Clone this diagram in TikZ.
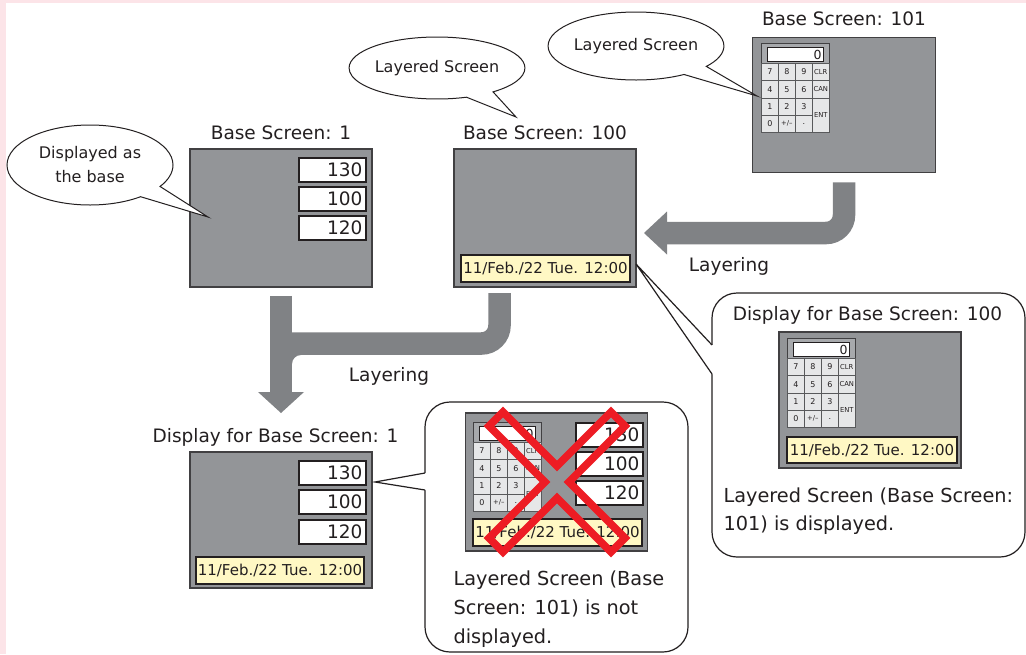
\documentclass[tikz,border=0pt]{standalone}
\usepackage{fontspec}
\setmainfont{DejaVu Sans}
\usetikzlibrary{shapes.callouts}
\definecolor{pinkbg}{HTML}{FCE4E8}
\definecolor{scrgray}{HTML}{939598}
\definecolor{scrline}{HTML}{414042}
\definecolor{arrowgray}{HTML}{808285}
\definecolor{dateyel}{HTML}{FFF8C4}
\definecolor{kpgray}{HTML}{A7A9AC}
\definecolor{kpkeyc}{HTML}{E6E7E8}
\definecolor{kpline}{HTML}{58595B}
\definecolor{txt}{HTML}{231F20}
\definecolor{xred}{HTML}{ED1C24}
\newcommand\fslbl{\fontsize{18.5}{22}\selectfont}
\newcommand\fscall{\fontsize{16}{24}\selectfont}
\newcommand\fsbody{\fontsize{19.3}{28}\selectfont}
\newcommand\fsval{\fontsize{18.5}{22}\selectfont}
\newcommand\fsdate{\fontsize{15}{18}\selectfont}
\newcommand\fskey{\fontsize{8}{9}\selectfont}
\newcommand\fskeysm{\fontsize{6.8}{8}\selectfont}
\newcommand\fskpd{\fontsize{12.5}{13}\selectfont}
\tikzset{
 every node/.append style={text=txt},
 scr/.style={draw=scrline, fill=scrgray, line width=1.5pt, minimum width=182pt, minimum height=138pt, inner sep=0pt},
 valbox/.style={draw=txt, fill=white, line width=1.8pt, minimum height=24pt, text width=60pt, inner xsep=3.5pt, inner ysep=0pt, align=right, font=\fsval, anchor=north west},
 datebox/.style={draw=txt, fill=dateyel, line width=1.8pt, minimum width=169pt, minimum height=27pt, inner sep=0pt, font=\fsdate},
 lbl/.style={anchor=base, font=\fslbl},
 bodytxt/.style={anchor=base west, font=\fsbody},
 band/.style={draw=arrowgray, line width=22.5pt},
 headfill/.style={fill=arrowgray},
 ecall/.style={ellipse callout, draw=txt, fill=white, line width=1pt, inner sep=0pt, callout pointer arc=20, font=\fscall, align=center},
 bubrect/.style={draw=txt, fill=white, line width=1.2pt, rounded corners=25pt, inner sep=0pt},
 bubline/.style={draw=txt, line width=1.2pt},
 kpframe/.style={draw=scrline, fill=kpgray, line width=1pt, minimum width=68pt, minimum height=89pt, inner sep=0pt},
 kpdisp/.style={draw=txt, fill=white, line width=1pt, minimum width=56pt, minimum height=14pt, text width=52pt, align=right, inner xsep=2pt, inner ysep=0pt, font=\fskpd},
 kpkey/.style={draw=kpline, fill=kpkeyc, line width=0.6pt, minimum width=17pt, minimum height=17.25pt, inner sep=0pt, font=\fskey, anchor=north west},
 crossx/.style={draw=xred, line width=7.5pt, line join=miter}
}
\newcommand\kpad[3]{%
 \begin{scope}[shift={(#2,#3)}]
  \node[kpframe, anchor=north west] (#1f) at (0,0) {};
  \node[kpdisp, anchor=north west] (#1d) at (6,4) {0};
  \foreach \kl/\kx/\ky in {7/0/0, 8/1/0, 9/2/0, 4/0/1, 5/1/1, 6/2/1, 1/0/2, 2/1/2, 3/2/2, 0/0/3}
   \node[kpkey] (#1k\kl) at ({\kx*17},{20+\ky*17.25}) {\kl};
  \node[kpkey, font=\fskeysm] (#1clr) at (51,20) {CLR};
  \node[kpkey, font=\fskeysm] (#1can) at (51,37.25) {CAN};
  \node[kpkey, font=\fskeysm, minimum height=34.5pt] (#1ent) at (51,54.5) {ENT};
  \node[kpkey, font=\fskeysm] (#1pm) at (17,71.75) {+/–};
  \node[kpkey] (#1dot) at (34,71.75) {.};
 \end{scope}}
\begin{document}
\begin{tikzpicture}[x=1pt,y=-1pt]
\useasboundingbox (0,0) rectangle (1026,654);
\fill[pinkbg] (0,0) rectangle (1026,654);
\fill[white] (6,3) rectangle (1026,654);

% screens
\node[scr] (b1) at (281,218) {};
\node[scr] (b100) at (545,218) {};
\node[scr, minimum width=183pt, minimum height=135pt] (b101) at (844,105) {};

% labels
\node[lbl] (lb1) at (281,139) {Base Screen: 1};
\node[lbl] (lb100) at (545,139) {Base Screen: 100};
\node[lbl] (lb101) at (844,25) {Base Screen: 101};

% values in base 1
\node[valbox] (v11) at (298,157) {130};
\node[valbox] (v12) at (298,186) {100};
\node[valbox] (v13) at (298,215) {120};

% date in base 100
\node[datebox] (dt100) at (545.5,268.5) {11/Feb./22 Tue. 12:00};

% keypad in base 101
\kpad{pa}{761}{43}

% arrow 101 -> 100
\draw[band, rounded corners=18pt] ([yshift=-9pt]b101.south) |- (666,233);
\fill[headfill] (667,211.5) -- (644,233) -- (667,254.5) -- cycle;
\node[lbl] (lay1) at (729,271) {Layering};

% arrow 100 -> display 1
\draw[band, rounded corners=18pt] (499.5,293) |- (281,343.5);
\draw[band] ([yshift=-8pt]b1.south) -- (281,393);
\fill[headfill] (292,355) -- (301,355) .. controls (296,355) and (292,359) .. (292,364) -- cycle;
\fill[headfill] (258,392) -- (281,413) -- (304,392) -- cycle;
\node[lbl] (lay2) at (389,381) {Layering};

% display for base 1
\node[lbl] (ld1) at (275.5,442) {Display for Base Screen: 1};
\node[scr, minimum height=136pt] (d1) at (281,520) {};
\node[valbox] (v21) at (298,460) {130};
\node[valbox] (v22) at (298,489) {100};
\node[valbox] (v23) at (298,519) {120};
\node[datebox, minimum width=168pt] (dt1) at (280,570.5) {11/Feb./22 Tue. 12:00};

% bottom bubble
\node[bubrect, minimum width=263pt, minimum height=250pt] (bb) at (556.5,527) {};
\fill[white] (376,482) -- (425,473) -- (426.5,473) -- (426.5,490) -- (425,490) -- cycle;
\draw[bubline] (425,473) -- (375,482) -- (425,490);
\node[scr] (dx) at (556.5,482) {};
\kpad{pb}{473}{422}
\node[valbox] (v31) at (575,422) {130};
\node[valbox] (v32) at (575,451) {100};
\node[valbox] (v33) at (575,480) {120};
\node[datebox] (dtx) at (557.5,532.5) {11/Feb./22 Tue. 12:00};
\draw[crossx] (503,412) -- (557,466) -- (611,412) -- (625,426) -- (569,482) -- (625,538)
  -- (611,552) -- (557,498) -- (503,552) -- (489,538) -- (545,482) -- (489,426) -- cycle;
\node[bodytxt] (tb1) at (450,585) {Layered Screen (Base};
\node[bodytxt] (tb2) at (450,614) {Screen: 101) is not};
\node[bodytxt] (tb3) at (450,643) {displayed.};

% right bubble
\node[bubrect, minimum width=313pt, minimum height=264pt] (br) at (868.5,425) {};
\fill[white] (637,264) -- (712,345) -- (713.5,345) -- (713.5,374) -- (712,374) -- cycle;
\draw[bubline] (712,345) -- (636,264) -- (712,374);
\node[lbl] (ld100) at (867.5,320) {Display for Base Screen: 100};
\node[scr, minimum height=136pt] (d100) at (870,400) {};
\kpad{pc}{787}{338}
\node[datebox, minimum width=170pt, minimum height=26pt] (dt2) at (872,450) {11/Feb./22 Tue. 12:00};
\node[bodytxt] (tr1) at (720,502) {Layered Screen (Base Screen:};
\node[bodytxt] (tr2) at (720,530) {101) is displayed.};

% ellipse callouts
\node[ecall, minimum width=166pt, minimum height=80pt, callout absolute pointer={(208,217)}] (c1) at (90,165) {Displayed as\\the base};
\node[ecall, minimum width=170pt, minimum height=62pt, callout absolute pointer={(516,117)}] (c2) at (437,68) {Layered Screen};
\node[ecall, minimum width=164pt, minimum height=68pt, callout absolute pointer={(757,96)}] (c3) at (636,46) {Layered Screen};
\end{tikzpicture}
\end{document}
